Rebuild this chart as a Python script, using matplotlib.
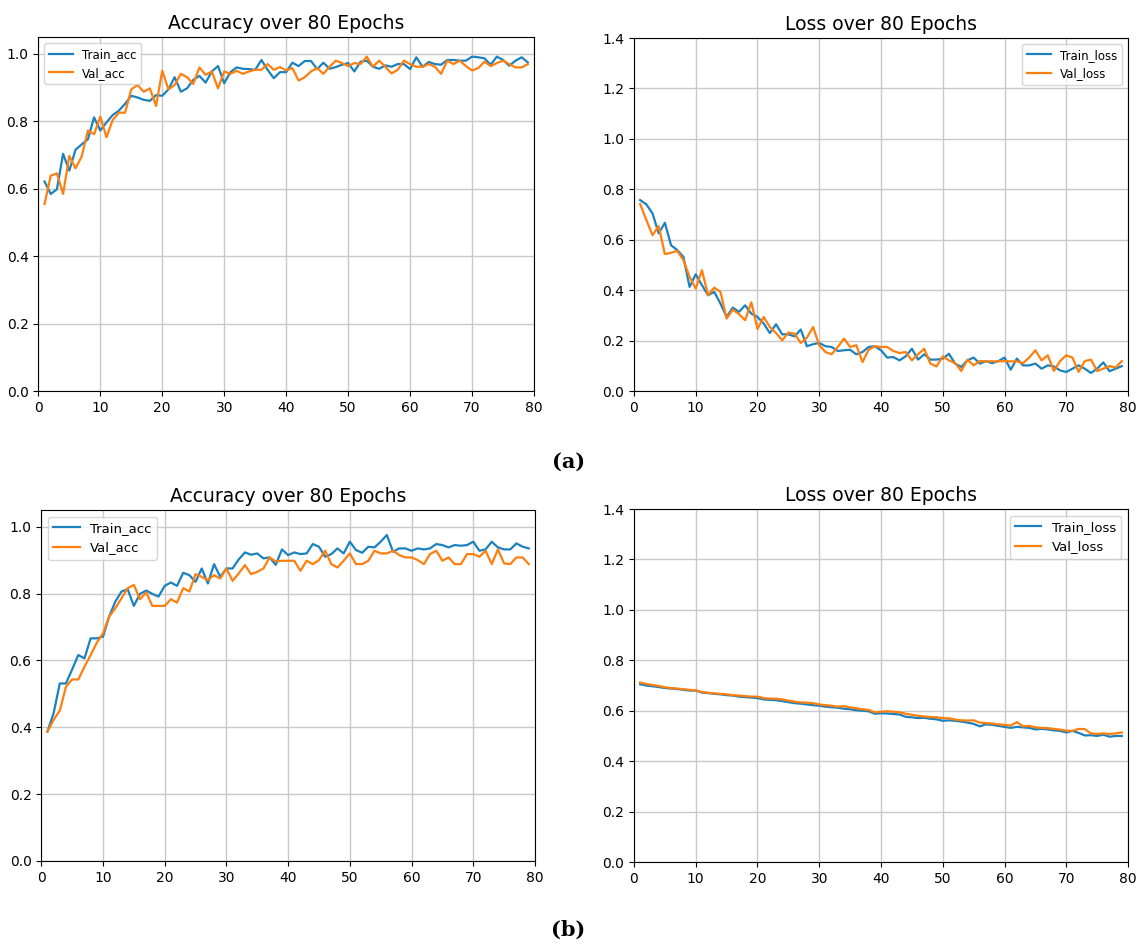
import matplotlib
matplotlib.use("Agg")
import matplotlib.pyplot as plt

epochs = list(range(1, 80))

# (a) accuracy
a_train_acc = [0.622, 0.585, 0.599, 0.704, 0.654, 0.716, 0.732, 0.747, 0.812, 0.773,
               0.797, 0.819, 0.832, 0.852, 0.876, 0.871, 0.864, 0.861, 0.878, 0.876,
               0.895, 0.931, 0.888, 0.898, 0.923, 0.935, 0.915, 0.948, 0.964, 0.913,
               0.946, 0.960, 0.956, 0.955, 0.953, 0.982, 0.953, 0.928, 0.946, 0.946,
               0.974, 0.964, 0.979, 0.979, 0.955, 0.974, 0.956, 0.961, 0.968, 0.973,
               0.948, 0.977, 0.980, 0.962, 0.956, 0.966, 0.962, 0.970, 0.970, 0.955,
               0.990, 0.962, 0.976, 0.970, 0.968, 0.982, 0.982, 0.980, 0.980, 0.992,
               0.990, 0.987, 0.968, 0.992, 0.982, 0.965, 0.980, 0.990, 0.975]
a_val_acc = [0.555, 0.639, 0.646, 0.585, 0.698, 0.661, 0.696, 0.773, 0.762, 0.814,
             0.753, 0.804, 0.826, 0.826, 0.895, 0.908, 0.888, 0.898, 0.846, 0.950,
             0.895, 0.908, 0.941, 0.931, 0.911, 0.960, 0.938, 0.948, 0.898, 0.948,
             0.941, 0.950, 0.941, 0.948, 0.953, 0.953, 0.970, 0.953, 0.961, 0.951,
             0.958, 0.921, 0.931, 0.948, 0.958, 0.941, 0.962, 0.980, 0.973, 0.964,
             0.973, 0.970, 0.992, 0.962, 0.980, 0.962, 0.942, 0.953, 0.980, 0.970,
             0.962, 0.962, 0.970, 0.962, 0.941, 0.980, 0.970, 0.980, 0.964, 0.951,
             0.958, 0.977, 0.964, 0.973, 0.980, 0.970, 0.960, 0.960, 0.970]

# (a) loss
a_train_loss = [0.758, 0.741, 0.705, 0.626, 0.668, 0.579, 0.560, 0.533, 0.414, 0.464,
                0.421, 0.381, 0.394, 0.348, 0.295, 0.332, 0.315, 0.341, 0.308, 0.295,
                0.269, 0.231, 0.266, 0.226, 0.226, 0.218, 0.245, 0.179, 0.187, 0.192,
                0.179, 0.176, 0.160, 0.163, 0.165, 0.147, 0.156, 0.176, 0.179, 0.163,
                0.134, 0.136, 0.123, 0.139, 0.169, 0.126, 0.147, 0.126, 0.126, 0.130,
                0.149, 0.110, 0.097, 0.123, 0.134, 0.110, 0.120, 0.112, 0.120, 0.134,
                0.086, 0.130, 0.103, 0.103, 0.110, 0.090, 0.103, 0.099, 0.083, 0.077,
                0.090, 0.103, 0.090, 0.073, 0.090, 0.115, 0.080, 0.090, 0.100]
a_val_loss = [0.742, 0.679, 0.619, 0.655, 0.544, 0.549, 0.557, 0.520, 0.454, 0.407,
              0.480, 0.381, 0.411, 0.394, 0.288, 0.324, 0.306, 0.282, 0.353, 0.247,
              0.295, 0.255, 0.231, 0.202, 0.233, 0.229, 0.192, 0.213, 0.255, 0.183,
              0.156, 0.147, 0.176, 0.209, 0.176, 0.183, 0.116, 0.165, 0.179, 0.176,
              0.176, 0.160, 0.152, 0.156, 0.123, 0.147, 0.169, 0.110, 0.099, 0.139,
              0.123, 0.112, 0.081, 0.126, 0.103, 0.120, 0.119, 0.119, 0.119, 0.120,
              0.119, 0.119, 0.112, 0.134, 0.163, 0.123, 0.143, 0.081, 0.120, 0.143,
              0.134, 0.077, 0.120, 0.126, 0.081, 0.090, 0.100, 0.095, 0.120]

# (b) accuracy
b_train_acc = [0.387, 0.442, 0.531, 0.531, 0.573, 0.616, 0.606, 0.666, 0.666, 0.671,
               0.731, 0.776, 0.806, 0.813, 0.763, 0.799, 0.809, 0.799, 0.791, 0.823,
               0.833, 0.823, 0.862, 0.855, 0.835, 0.875, 0.830, 0.888, 0.850, 0.875,
               0.875, 0.902, 0.923, 0.916, 0.920, 0.905, 0.908, 0.886, 0.932, 0.915,
               0.923, 0.918, 0.920, 0.948, 0.940, 0.910, 0.918, 0.935, 0.920, 0.955,
               0.930, 0.922, 0.940, 0.938, 0.955, 0.975, 0.925, 0.935, 0.935, 0.928,
               0.935, 0.932, 0.935, 0.948, 0.945, 0.938, 0.945, 0.943, 0.945, 0.955,
               0.928, 0.932, 0.955, 0.938, 0.932, 0.932, 0.950, 0.940, 0.935]
b_val_acc = [0.387, 0.422, 0.450, 0.521, 0.543, 0.543, 0.581, 0.616, 0.653, 0.681,
             0.731, 0.756, 0.786, 0.816, 0.826, 0.783, 0.803, 0.763, 0.763, 0.763,
             0.783, 0.773, 0.816, 0.806, 0.858, 0.850, 0.840, 0.855, 0.845, 0.875,
             0.838, 0.860, 0.885, 0.858, 0.865, 0.875, 0.908, 0.896, 0.898, 0.898,
             0.898, 0.868, 0.898, 0.888, 0.900, 0.928, 0.888, 0.878, 0.898, 0.920,
             0.888, 0.888, 0.898, 0.928, 0.920, 0.920, 0.928, 0.915, 0.908, 0.908,
             0.900, 0.888, 0.918, 0.928, 0.898, 0.908, 0.888, 0.888, 0.918, 0.918,
             0.910, 0.928, 0.888, 0.932, 0.890, 0.888, 0.908, 0.908, 0.888]

# (b) loss
b_train_loss = [0.705, 0.700, 0.697, 0.694, 0.690, 0.688, 0.686, 0.683, 0.680, 0.680,
                0.672, 0.670, 0.667, 0.665, 0.662, 0.660, 0.656, 0.654, 0.652, 0.650,
                0.645, 0.643, 0.642, 0.638, 0.634, 0.630, 0.628, 0.625, 0.622, 0.620,
                0.616, 0.614, 0.612, 0.608, 0.606, 0.602, 0.600, 0.598, 0.588, 0.590,
                0.589, 0.587, 0.585, 0.576, 0.574, 0.571, 0.572, 0.568, 0.566, 0.560,
                0.562, 0.560, 0.557, 0.553, 0.548, 0.538, 0.546, 0.544, 0.540, 0.536,
                0.532, 0.536, 0.534, 0.532, 0.526, 0.528, 0.526, 0.522, 0.520, 0.514,
                0.520, 0.512, 0.502, 0.503, 0.500, 0.505, 0.497, 0.500, 0.500]
b_val_loss = [0.712, 0.706, 0.702, 0.698, 0.693, 0.690, 0.688, 0.685, 0.683, 0.681,
              0.674, 0.671, 0.669, 0.667, 0.665, 0.662, 0.660, 0.658, 0.656, 0.656,
              0.650, 0.648, 0.648, 0.645, 0.640, 0.636, 0.633, 0.632, 0.630, 0.625,
              0.622, 0.620, 0.616, 0.618, 0.613, 0.610, 0.606, 0.603, 0.594, 0.596,
              0.598, 0.596, 0.594, 0.588, 0.584, 0.580, 0.577, 0.575, 0.574, 0.571,
              0.570, 0.565, 0.562, 0.561, 0.562, 0.553, 0.551, 0.549, 0.546, 0.544,
              0.541, 0.555, 0.538, 0.540, 0.534, 0.532, 0.531, 0.528, 0.525, 0.521,
              0.520, 0.528, 0.527, 0.510, 0.508, 0.510, 0.508, 0.510, 0.514]

BLUE = '#1b82bf'
ORANGE = '#ff7f0e'

fig = plt.figure(figsize=(11.37, 9.5), dpi=100)


def panel(rect, train, val, names, title, ylim, yticks, loc, legsize):
    ax = fig.add_axes(rect)
    ax.plot(epochs, train, color=BLUE, lw=1.6, label=names[0])
    ax.plot(epochs, val, color=ORANGE, lw=1.6, label=names[1])
    ax.set_xlim(0, 80)
    ax.set_ylim(*ylim)
    ax.set_yticks(yticks)
    ax.set_xticks(range(0, 81, 10))
    ax.grid(True, color='#c8c8c8', lw=1.0)
    ax.tick_params(labelsize=10)
    ax.set_title(title, fontsize=13.5)
    ax.legend(loc=loc, fontsize=legsize)
    return ax


acc_ticks = [0.0, 0.2, 0.4, 0.6, 0.8, 1.0]
loss_ticks = [0.0, 0.2, 0.4, 0.6, 0.8, 1.0, 1.2, 1.4]

panel([0.0337, 0.588, 0.436, 0.373], a_train_acc, a_val_acc, ['Train_acc', 'Val_acc'],
      'Accuracy over 80 Epochs', (0, 1.05), acc_ticks, 'upper left', 8.5)
panel([0.5576, 0.588, 0.4345, 0.372], a_train_loss, a_val_loss, ['Train_loss', 'Val_loss'],
      'Loss over 80 Epochs', (0, 1.4), loss_ticks, 'upper right', 8.5)
panel([0.0363, 0.0937, 0.4342, 0.3695], b_train_acc, b_val_acc, ['Train_acc', 'Val_acc'],
      'Accuracy over 80 Epochs', (0, 1.05), acc_ticks, 'upper left', 9.5)
panel([0.5576, 0.0926, 0.4345, 0.3716], b_train_loss, b_val_loss, ['Train_loss', 'Val_loss'],
      'Loss over 80 Epochs', (0, 1.4), loss_ticks, 'upper right', 9.5)

fig.text(0.5, 1 - 462 / 950, '(a)', ha='center', va='center', fontsize=15,
         fontweight='bold', family='DejaVu Serif')
fig.text(0.5, 1 - 930 / 950, '(b)', ha='center', va='center', fontsize=15,
         fontweight='bold', family='DejaVu Serif')

fig.savefig('out.png', dpi=100)
